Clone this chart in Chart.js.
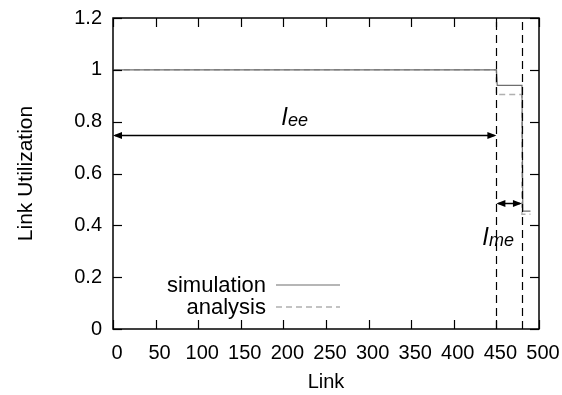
<!DOCTYPE html>
<html>
<head>
<meta charset="utf-8">
<script src="https://cdn.jsdelivr.net/npm/chart.js@4.4.1/dist/chart.umd.min.js"></script>
<style>
html, body { margin: 0; padding: 0; background: #fff; }
</style>
</head>
<body>
<canvas id="chart" width="562" height="395"></canvas>
<script>
const simX = [1, 450, 451, 480, 481, 490];
const simY = [1.0, 1.0, 0.94, 0.94, 0.455, 0.455];
const anaX = [1, 450, 450, 480, 480, 490];
const anaY = [1.0, 1.0, 0.905, 0.905, 0.443, 0.443];
const xTicks = ['0', '50', '100', '150', '200', '250', '300', '350', '400', '450', '500'];
const yTicks = ['0', '0.2', '0.4', '0.6', '0.8', '1', '1.2'];
const seriesNames = ['simulation', 'analysis'];

// region boundaries and span arrows
const boundaryX = [450, 480];
const spanFrom = [0, 450];
const spanTo = [450, 480];
const spanY = [0.75, 0.485];
const spanSub = ['ee', 'me'];
const spanLabelX = [198, 434];
const spanLabelY = [0.787, 0.324];

const FONT = "'Liberation Sans', Arial, Helvetica, sans-serif";
const SIM_COLOR = '#6e6e6e';
const ANA_COLOR = '#b0b0b0';

function line(ctx, x1, y1, x2, y2) {
    ctx.beginPath();
    ctx.moveTo(x1, y1);
    ctx.lineTo(x2, y2);
    ctx.stroke();
}

function head(ctx, x, y, dir) {
    ctx.beginPath();
    ctx.moveTo(x, y);
    ctx.lineTo(x - dir * 9, y - 3.5);
    ctx.lineTo(x - dir * 9, y + 3.5);
    ctx.closePath();
    ctx.fill();
}

function fixBox(w, h) {
    return s => {
        if (w) s.width = w;
        if (h) s.height = h;
        s.paddingLeft = s.paddingRight = s.paddingTop = s.paddingBottom = 0;
    };
}

const frame = {
    id: 'frame',
    afterDatasetsDraw(chart) {
        const { ctx, chartArea: a, scales: { x, y } } = chart;
        ctx.save();
        ctx.strokeStyle = '#000';
        ctx.fillStyle = '#000';

        // dashed boundaries
        ctx.lineWidth = 1.2;
        ctx.setLineDash([8, 5]);
        boundaryX.forEach(v => {
            const px = Math.round(x.getPixelForValue(v)) + 0.5;
            line(ctx, px, a.bottom, px, a.top);
        });
        ctx.setLineDash([]);

        // span arrows + labels
        ctx.lineWidth = 1.5;
        spanFrom.forEach((f, i) => {
            const x1 = x.getPixelForValue(f);
            const x2 = x.getPixelForValue(spanTo[i]);
            const py = Math.round(y.getPixelForValue(spanY[i])) + 0.5;
            line(ctx, x1 + 2, py, x2 - 2, py);
            head(ctx, x1, py, -1);
            head(ctx, x2, py, 1);

            const lx = x.getPixelForValue(spanLabelX[i]);
            const ly = y.getPixelForValue(spanLabelY[i]);
            ctx.textAlign = 'left';
            ctx.textBaseline = 'alphabetic';
            ctx.font = `italic 24px ${FONT}`;
            ctx.fillText('l', lx, ly);
            const w = ctx.measureText('l').width;
            ctx.font = `italic 18px ${FONT}`;
            ctx.fillText(spanSub[i], lx + w + 1, ly + 1);
        });

        // frame with inward ticks
        ctx.lineWidth = 1.5;
        ctx.strokeRect(a.left, a.top, a.right - a.left, a.bottom - a.top);
        ctx.lineWidth = 1.2;
        x.ticks.forEach(t => {
            const px = Math.round(x.getPixelForValue(t.value)) + 0.5;
            line(ctx, px, a.bottom, px, a.bottom - 9);
            line(ctx, px, a.top, px, a.top + 9);
        });
        y.ticks.forEach(t => {
            const py = Math.round(y.getPixelForValue(t.value)) + 0.5;
            line(ctx, a.left, py, a.left + 9, py);
            line(ctx, a.right, py, a.right - 9, py);
        });

        // key
        ctx.font = `22px ${FONT}`;
        ctx.textAlign = 'right';
        ctx.textBaseline = 'middle';
        const keyY = [286, 308];
        chart.data.datasets.forEach((ds, i) => {
            ctx.fillStyle = '#000';
            ctx.fillText(ds.label, 266, keyY[i]);
            ctx.strokeStyle = ds.borderColor;
            ctx.lineWidth = ds.borderWidth;
            ctx.setLineDash(ds.borderDash || []);
            line(ctx, 276, keyY[i] - 1, 340, keyY[i] - 1);
        });
        ctx.restore();
    },
};

new Chart(document.getElementById('chart'), {
    type: 'line',
    data: {
        datasets: [
            {
                label: seriesNames[0],
                data: simX.map((v, i) => ({ x: v, y: simY[i] })),
                borderColor: SIM_COLOR,
                borderWidth: 1.2,
                pointRadius: 0,
                tension: 0,
                order: 0,
            },
            {
                label: seriesNames[1],
                data: anaX.map((v, i) => ({ x: v, y: anaY[i] })),
                borderColor: ANA_COLOR,
                borderWidth: 1.5,
                borderDash: [6, 4],
                pointRadius: 0,
                tension: 0,
                order: 1,
            },
        ],
    },
    options: {
        responsive: false,
        animation: false,
        devicePixelRatio: 1,
        layout: { padding: { left: 0, right: 23, top: 18, bottom: 0 } },
        plugins: {
            legend: { display: false },
            tooltip: { enabled: false },
        },
        scales: {
            x: {
                type: 'linear',
                min: 0,
                max: 500,
                afterFit: fixBox(0, 66),
                grid: { display: false, drawTicks: false },
                border: { display: false },
                ticks: {
                    stepSize: 50,
                    autoSkip: false,
                    maxRotation: 0,
                    padding: 12,
                    labelOffset: 4,
                    color: '#000',
                    font: { family: FONT, size: 20 },
                    callback: (v, i) => xTicks[i],
                },
                title: {
                    display: true,
                    text: 'Link',
                    color: '#000',
                    font: { family: FONT, size: 20 },
                    padding: { top: 0, bottom: 1 },
                },
            },
            y: {
                min: 0,
                max: 1.2,
                afterFit: fixBox(113, 0),
                grid: { display: false, drawTicks: false },
                border: { display: false },
                ticks: {
                    stepSize: 0.2,
                    autoSkip: false,
                    padding: 11,
                    color: '#000',
                    font: { family: FONT, size: 20 },
                    callback: (v, i) => yTicks[i],
                },
                title: {
                    display: true,
                    text: 'Link Utilization',
                    color: '#000',
                    font: { family: FONT, size: 21 },
                    padding: { top: 14, bottom: 0 },
                },
            },
        },
    },
    plugins: [frame],
});
</script>
</body>
</html>
